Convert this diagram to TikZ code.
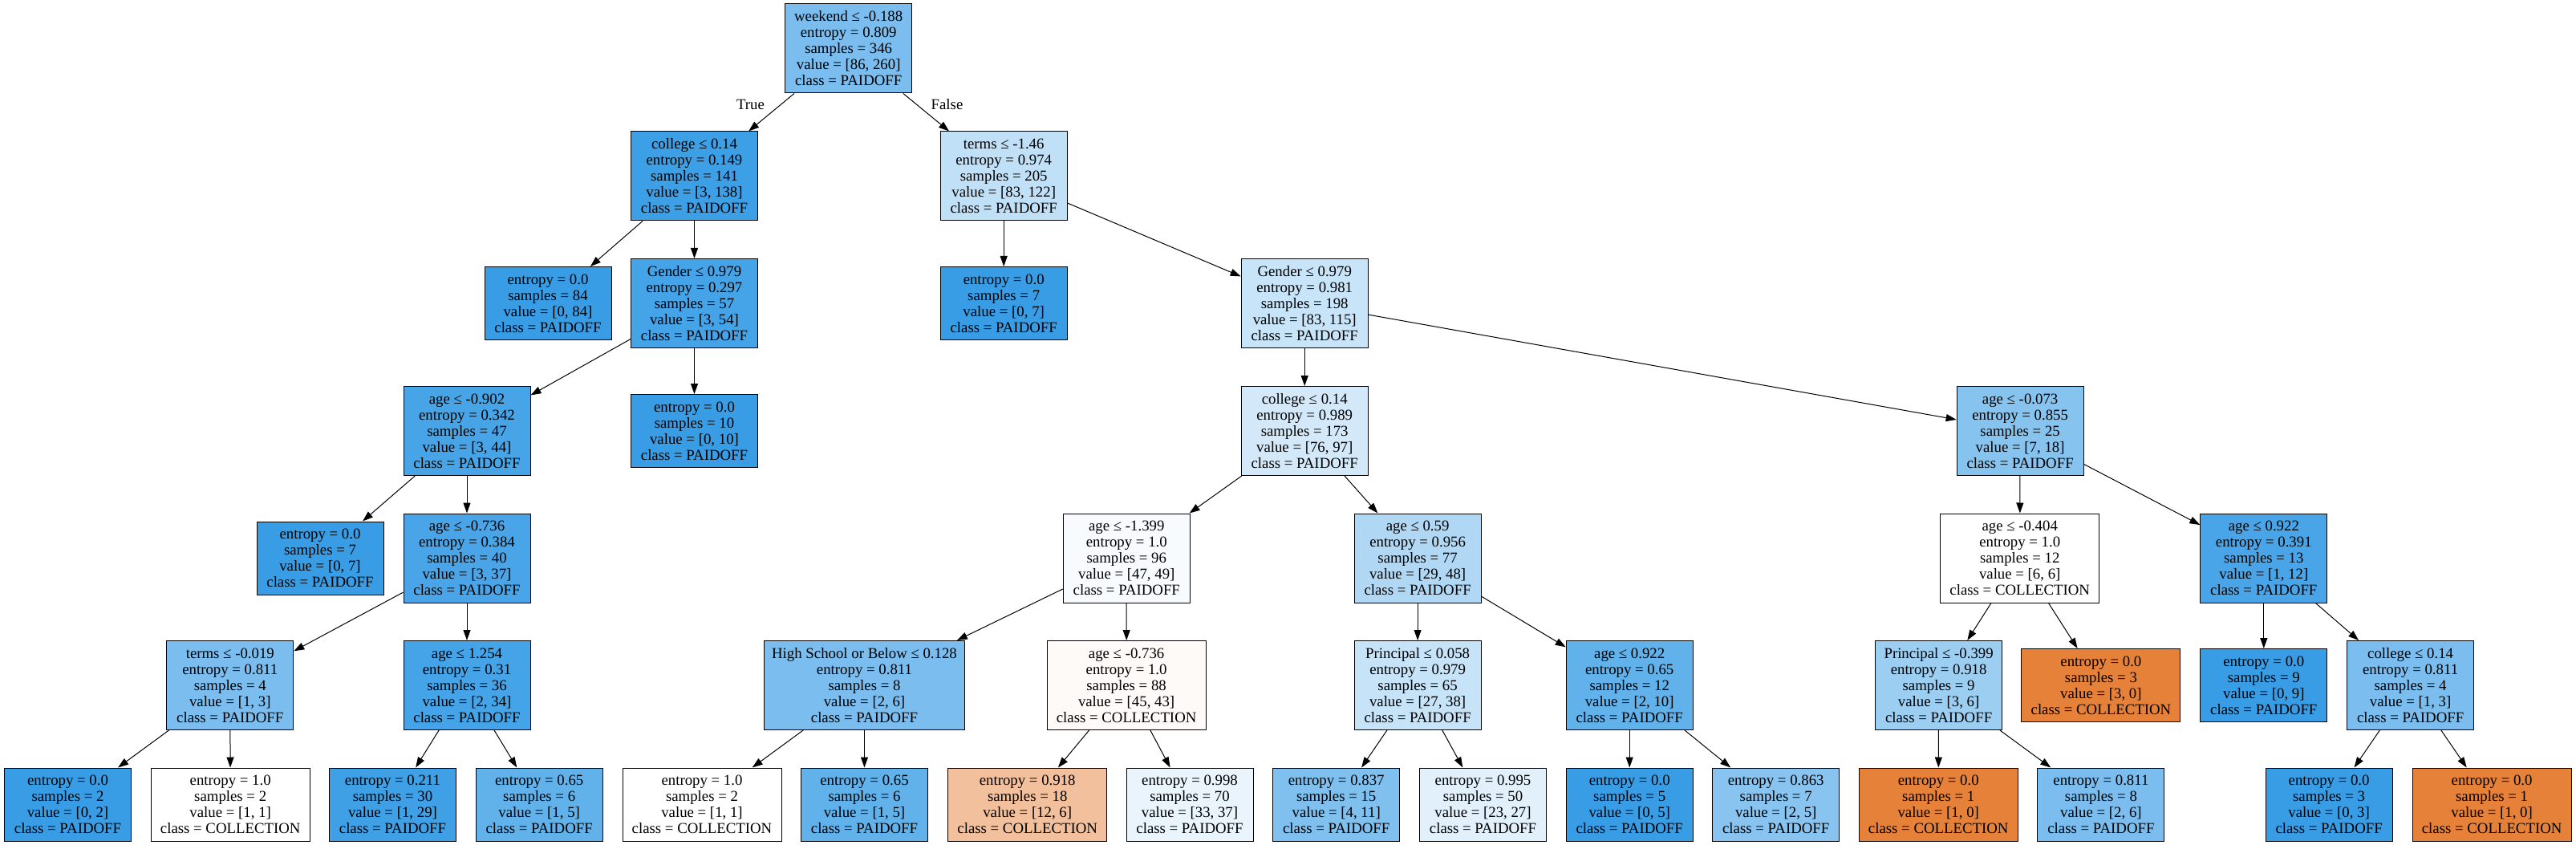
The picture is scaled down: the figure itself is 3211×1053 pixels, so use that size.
\documentclass[tikz,border=0pt]{standalone}
\usepackage{fontspec}
\setmainfont{Liberation Serif}
\usetikzlibrary{arrows.meta}
\definecolor{dtblue}{RGB}{57,157,229}
\definecolor{dtorange}{RGB}{229,129,57}

\begin{document}
\begin{tikzpicture}[x=0.5pt, y=-0.5pt,
  font=\fontsize{9.4}{10}\selectfont,
  split/.style={draw, line width=0.5pt, minimum width=79pt, minimum height=55.5pt, inner sep=2pt, align=center},
  leaf/.style={split, minimum height=45.5pt},
  wide/.style={minimum width=99pt},
  link/.style={-{Triangle[length=6.5pt, width=4.5pt]}, line width=0.5pt}]
\useasboundingbox (0,0) rectangle (3211,1053);

% Depth 0
\node[split, fill=dtblue!67] (n0) at (1057.7, 60.5) {weekend ≤ -0.188\\entropy = 0.809\\samples = 346\\value = [86, 260]\\class = PAIDOFF};

% Depth 1
\node[split, fill=dtblue!98] (n1) at (865.5, 219.5) {college ≤ 0.14\\entropy = 0.149\\samples = 141\\value = [3, 138]\\class = PAIDOFF};
\node[split, fill=dtblue!32] (n14) at (1251.2, 219.5) {terms ≤ -1.46\\entropy = 0.974\\samples = 205\\value = [83, 122]\\class = PAIDOFF};

% Depth 2
\node[leaf, fill=dtblue] (n2) at (683, 378) {entropy = 0.0\\samples = 84\\value = [0, 84]\\class = PAIDOFF};
\node[split, fill=dtblue!94] (n3) at (865.5, 378) {Gender ≤ 0.979\\entropy = 0.297\\samples = 57\\value = [3, 54]\\class = PAIDOFF};
\node[leaf, fill=dtblue] (n15) at (1251.2, 378) {entropy = 0.0\\samples = 7\\value = [0, 7]\\class = PAIDOFF};
\node[split, fill=dtblue!28] (n16) at (1626.2, 378) {Gender ≤ 0.979\\entropy = 0.981\\samples = 198\\value = [83, 115]\\class = PAIDOFF};

% Depth 3
\node[split, fill=dtblue!93] (n4) at (582, 537) {age ≤ -0.902\\entropy = 0.342\\samples = 47\\value = [3, 44]\\class = PAIDOFF};
\node[leaf, fill=dtblue] (n13) at (865.5, 537) {entropy = 0.0\\samples = 10\\value = [0, 10]\\class = PAIDOFF};
\node[split, fill=dtblue!22] (n17) at (1626.2, 537) {college ≤ 0.14\\entropy = 0.989\\samples = 173\\value = [76, 97]\\class = PAIDOFF};
\node[split, fill=dtblue!61] (n32) at (2518.1, 537) {age ≤ -0.073\\entropy = 0.855\\samples = 25\\value = [7, 18]\\class = PAIDOFF};

% Depth 4
\node[leaf, fill=dtblue] (n5) at (399, 695.5) {entropy = 0.0\\samples = 7\\value = [0, 7]\\class = PAIDOFF};
\node[split, fill=dtblue!92] (n6) at (582, 695.5) {age ≤ -0.736\\entropy = 0.384\\samples = 40\\value = [3, 37]\\class = PAIDOFF};
\node[split, fill=dtblue!4] (n18) at (1404.3, 695.5) {age ≤ -1.399\\entropy = 1.0\\samples = 96\\value = [47, 49]\\class = PAIDOFF};
\node[split, fill=dtblue!40] (n25) at (1767.1, 695.5) {age ≤ 0.59\\entropy = 0.956\\samples = 77\\value = [29, 48]\\class = PAIDOFF};
\node[split, wide, fill=white] (n33) at (2517.7, 695.5) {age ≤ -0.404\\entropy = 1.0\\samples = 12\\value = [6, 6]\\class = COLLECTION};
\node[split, fill=dtblue!92] (n38) at (2821.8, 695.5) {age ≤ 0.922\\entropy = 0.391\\samples = 13\\value = [1, 12]\\class = PAIDOFF};

% Depth 5
\node[split, fill=dtblue!67] (n7) at (286.8, 854) {terms ≤ -0.019\\entropy = 0.811\\samples = 4\\value = [1, 3]\\class = PAIDOFF};
\node[split, fill=dtblue!94] (n10) at (582, 854) {age ≤ 1.254\\entropy = 0.31\\samples = 36\\value = [2, 34]\\class = PAIDOFF};
\node[split, minimum width=125pt, fill=dtblue!67] (n19) at (1077.5, 854) {High School or Below ≤ 0.128\\entropy = 0.811\\samples = 8\\value = [2, 6]\\class = PAIDOFF};
\node[split, wide, fill=dtorange!4] (n22) at (1404.1, 854) {age ≤ -0.736\\entropy = 1.0\\samples = 88\\value = [45, 43]\\class = COLLECTION};
\node[split, fill=dtblue!29] (n26) at (1767.1, 854) {Principal ≤ 0.058\\entropy = 0.979\\samples = 65\\value = [27, 38]\\class = PAIDOFF};
\node[split, fill=dtblue!80] (n29) at (2031.2, 854) {age ≤ 0.922\\entropy = 0.65\\samples = 12\\value = [2, 10]\\class = PAIDOFF};
\node[split, fill=dtblue!50] (n34) at (2416.6, 854) {Principal ≤ -0.399\\entropy = 0.918\\samples = 9\\value = [3, 6]\\class = PAIDOFF};
\node[leaf, wide, fill=dtorange] (n37) at (2618.9, 854) {entropy = 0.0\\samples = 3\\value = [3, 0]\\class = COLLECTION};
\node[leaf, fill=dtblue] (n39) at (2821.8, 854) {entropy = 0.0\\samples = 9\\value = [0, 9]\\class = PAIDOFF};
\node[split, fill=dtblue!67] (n40) at (3004.6, 854) {college ≤ 0.14\\entropy = 0.811\\samples = 4\\value = [1, 3]\\class = PAIDOFF};

% Depth 6
\node[leaf, fill=dtblue] (n8) at (84.5, 1002.5) {entropy = 0.0\\samples = 2\\value = [0, 2]\\class = PAIDOFF};
\node[leaf, wide, fill=white] (n9) at (287.2, 1002.5) {entropy = 1.0\\samples = 2\\value = [1, 1]\\class = COLLECTION};
\node[leaf, fill=dtblue!97] (n11) at (489.5, 1002.5) {entropy = 0.211\\samples = 30\\value = [1, 29]\\class = PAIDOFF};
\node[leaf, fill=dtblue!80] (n12) at (672.2, 1002.5) {entropy = 0.65\\samples = 6\\value = [1, 5]\\class = PAIDOFF};
\node[leaf, wide, fill=white] (n20) at (875, 1002.5) {entropy = 1.0\\samples = 2\\value = [1, 1]\\class = COLLECTION};
\node[leaf, fill=dtblue!80] (n21) at (1077.5, 1002.5) {entropy = 0.65\\samples = 6\\value = [1, 5]\\class = PAIDOFF};
\node[leaf, wide, fill=dtorange!50] (n23) at (1280.7, 1002.5) {entropy = 0.918\\samples = 18\\value = [12, 6]\\class = COLLECTION};
\node[leaf, fill=dtblue!11] (n24) at (1483, 1002.5) {entropy = 0.998\\samples = 70\\value = [33, 37]\\class = PAIDOFF};
\node[leaf, fill=dtblue!64] (n27) at (1665.7, 1002.5) {entropy = 0.837\\samples = 15\\value = [4, 11]\\class = PAIDOFF};
\node[leaf, fill=dtblue!15] (n28) at (1848.5, 1002.5) {entropy = 0.995\\samples = 50\\value = [23, 27]\\class = PAIDOFF};
\node[leaf, fill=dtblue] (n30) at (2031.2, 1002.5) {entropy = 0.0\\samples = 5\\value = [0, 5]\\class = PAIDOFF};
\node[leaf, fill=dtblue!60] (n31) at (2213.7, 1002.5) {entropy = 0.863\\samples = 7\\value = [2, 5]\\class = PAIDOFF};
\node[leaf, wide, fill=dtorange] (n35) at (2416.2, 1002.5) {entropy = 0.0\\samples = 1\\value = [1, 0]\\class = COLLECTION};
\node[leaf, fill=dtblue!67] (n36) at (2618.9, 1002.5) {entropy = 0.811\\samples = 8\\value = [2, 6]\\class = PAIDOFF};
\node[leaf, fill=dtblue] (n41) at (2903.1, 1002.5) {entropy = 0.0\\samples = 3\\value = [0, 3]\\class = PAIDOFF};
\node[leaf, wide, fill=dtorange] (n42) at (3106.1, 1002.5) {entropy = 0.0\\samples = 1\\value = [1, 0]\\class = COLLECTION};

% Branch labels
\node (lblTrue) at (935.5, 130) {True};
\node (lblFalse) at (1180.5, 130) {False};

% Arrows
\draw[link] (n0) -- (n1);
\draw[link] (n0) -- (n14);
\draw[link] (n1) -- (n2);
\draw[link] (n1) -- (n3);
\draw[link] (n3) -- (n4);
\draw[link] (n3) -- (n13);
\draw[link] (n4) -- (n5);
\draw[link] (n4) -- (n6);
\draw[link] (n6) -- (n7);
\draw[link] (n6) -- (n10);
\draw[link] (n7) -- (n8);
\draw[link] (n7) -- (n9);
\draw[link] (n10) -- (n11);
\draw[link] (n10) -- (n12);
\draw[link] (n14) -- (n15);
\draw[link] (n14) -- (n16);
\draw[link] (n16) -- (n17);
\draw[link] (n16) -- (n32);
\draw[link] (n17) -- (n18);
\draw[link] (n17) -- (n25);
\draw[link] (n18) -- (n19);
\draw[link] (n18) -- (n22);
\draw[link] (n19) -- (n20);
\draw[link] (n19) -- (n21);
\draw[link] (n22) -- (n23);
\draw[link] (n22) -- (n24);
\draw[link] (n25) -- (n26);
\draw[link] (n25) -- (n29);
\draw[link] (n26) -- (n27);
\draw[link] (n26) -- (n28);
\draw[link] (n29) -- (n30);
\draw[link] (n29) -- (n31);
\draw[link] (n32) -- (n33);
\draw[link] (n32) -- (n38);
\draw[link] (n33) -- (n34);
\draw[link] (n33) -- (n37);
\draw[link] (n34) -- (n35);
\draw[link] (n34) -- (n36);
\draw[link] (n38) -- (n39);
\draw[link] (n38) -- (n40);
\draw[link] (n40) -- (n41);
\draw[link] (n40) -- (n42);
\end{tikzpicture}
\end{document}
